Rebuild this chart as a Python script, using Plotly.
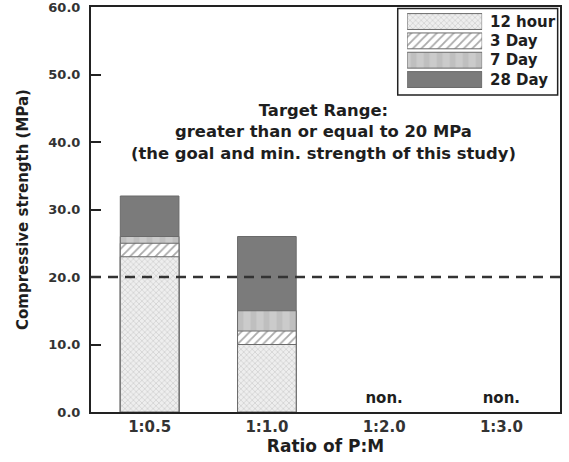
import plotly.graph_objects as go

categories = ["1:0.5", "1:1.0", "1:2.0", "1:3.0"]
series_names = ["12 hour", "3 Day", "7 Day", "28 Day"]
# cumulative strength (MPa) at each age; None = not measured
h12 = [23, 10, None, None]
d3 = [25, 12, None, None]
d7 = [26, 15, None, None]
d28 = [32, 26, None, None]
target = 20
non_labels = ["", "", "non.", "non."]
y_ticks = [0, 10, 20, 30, 40, 50, 60]

FONT = "DejaVu Sans, Arial, sans-serif"
TXT = "#1e1e1e"
OUTLINE = dict(color="#6a6a6a", width=1)
styles = {
    "12 hour": dict(color="#e8e8e8", pattern=dict(shape="x", fgcolor="#a8a8a8", bgcolor="#eeeeee", size=4, solidity=0.3)),
    "3 Day": dict(color="white", pattern=dict(shape="/", fgcolor="#555555", bgcolor="white", size=6, solidity=0.3)),
    "7 Day": dict(color="#c4c4c4", pattern=dict(shape="|", fgcolor="#b4b4b4", bgcolor="#cbcbcb", size=13, solidity=0.45)),
    "28 Day": dict(color="#7b7b7b"),
}
data = {"12 hour": h12, "3 Day": d3, "7 Day": d7, "28 Day": d28}

def bfont(size, color=TXT):
    return dict(family=FONT, size=size, color=color, weight="bold")

fig = go.Figure()
# overlay: longest-age (tallest) bar drawn first
for name in ["28 Day", "7 Day", "3 Day", "12 hour"]:
    fig.add_trace(go.Bar(
        x=categories, y=data[name], name=name, width=0.5, showlegend=False,
        marker=dict(**styles[name], line=OUTLINE),
    ))

fig.add_trace(go.Scatter(
    x=categories, y=[1.9 if t else None for t in non_labels], mode="text",
    text=non_labels, textfont=bfont(15),
    showlegend=False, hoverinfo="skip"))

# custom legend (wide swatches like the original) on its own small axes
legend_y = series_names[::-1]
for name in series_names:
    fig.add_trace(go.Bar(
        x=[1], y=[name], orientation="h", width=0.82, xaxis="x2", yaxis="y2",
        marker=dict(**styles[name], line=OUTLINE), showlegend=False, hoverinfo="skip"))
    fig.add_annotation(xref="paper", yref="y2", x=0.846, y=name, xanchor="left",
                       text=name, showarrow=False, font=bfont(15))
fig.add_shape(type="rect", xref="paper", yref="paper", x0=0.654, x1=0.995, y0=0.783, y1=0.996,
              line=dict(color="#222222", width=1.5), fillcolor="white", layer="below")

fig.add_shape(type="line", xref="paper", x0=0, x1=1, yref="y", y0=target, y1=target,
              line=dict(color="#333333", width=2.5, dash="10px,7px"))

fig.add_annotation(
    xref="paper", yref="y", x=0.496, y=41.5, showarrow=False,
    text="Target Range:<br>greater than or equal to 20 MPa<br>(the goal and min. strength of this study)",
    font=bfont(16.4), align="center")

fig.update_layout(
    width=569, height=462, barmode="overlay", showlegend=False,
    margin=dict(l=91, r=9, t=7, b=50),
    plot_bgcolor="white", paper_bgcolor="white",
    font=dict(family=FONT, size=13, color=TXT),
    xaxis=dict(showline=True, linecolor="#222222", linewidth=2, mirror=True, automargin=False,
               ticks="", tickfont=bfont(15, "#333333"),
               title=dict(text="Ratio of P:M", font=bfont(17), standoff=5)),
    yaxis=dict(range=[0, 60], tickvals=y_ticks, tickformat=".1f", showgrid=False, zeroline=False,
               showline=True, linecolor="#222222", linewidth=2, mirror=True, automargin=False,
               ticks="inside", ticklen=10, tickwidth=2, tickcolor="#222222",
               ticklabelstandoff=6, ticklabeloverflow="allow",
               tickfont=bfont(13, "#333333"),
               title=dict(text="Compressive strength (MPa)", font=bfont(15), standoff=16)),
    xaxis2=dict(domain=[0.674, 0.834], anchor="y2", range=[0, 1], visible=False, fixedrange=True),
    yaxis2=dict(domain=[0.797, 0.988], anchor="x2", categoryorder="array", categoryarray=legend_y,
                range=[-0.5, 3.5], visible=False, fixedrange=True),
)

fig.write_html("out.html")
